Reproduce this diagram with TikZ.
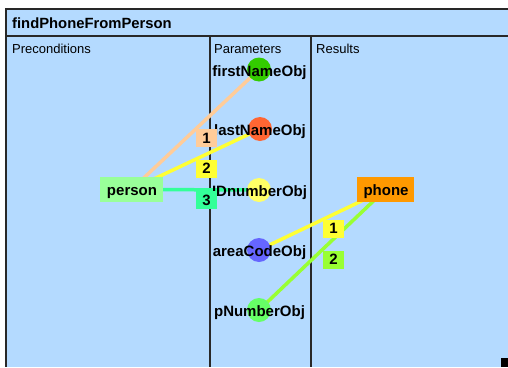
\documentclass[tikz,border=0pt]{standalone}
\usepackage{fontspec}
\setmainfont{Liberation Sans}
\pgfdeclarelayer{bg}
\pgfdeclarelayer{lines}
\pgfsetlayers{bg,lines,main}
\definecolor{panel}{RGB}{180,218,255}
\definecolor{framec}{RGB}{40,40,40}
\definecolor{cfirst}{RGB}{51,204,0}
\definecolor{clast}{RGB}{255,102,51}
\definecolor{cid}{RGB}{255,255,102}
\definecolor{carea}{RGB}{102,102,255}
\definecolor{cpnum}{RGB}{102,255,102}
\definecolor{cperson}{RGB}{153,255,153}
\definecolor{cphone}{RGB}{255,153,0}
\definecolor{cpeach}{RGB}{255,204,153}
\definecolor{cyel}{RGB}{255,255,51}
\definecolor{cteal}{RGB}{51,255,153}
\definecolor{clime}{RGB}{153,255,51}
\begin{document}
\begin{tikzpicture}[x=1pt,y=-1pt,
  frameline/.style={draw=framec, line width=2pt},
  conn/.style={line width=3.5pt},
  param/.style={circle, minimum size=24pt, inner sep=0pt},
  plabel/.style={font=\fontsize{15}{15}\selectfont\bfseries, anchor=base, inner sep=0pt},
  hdr/.style={font=\fontsize{13}{13}\selectfont, anchor=base west, inner sep=0pt},
  ttl/.style={font=\fontsize{14.8}{15}\selectfont\bfseries, anchor=base west, inner sep=0pt},
  objbox/.style={minimum height=25pt, inner sep=0pt},
  objtext/.style={font=\fontsize{15}{15}\selectfont\bfseries, anchor=base, inner sep=0pt},
  numbox/.style={minimum width=21pt, minimum height=18pt, inner sep=0pt, font=\fontsize{15}{15}\selectfont\bfseries}
]
\useasboundingbox (0,0) rectangle (508,367);
\begin{pgfonlayer}{bg}
  \fill[white] (0,0) rectangle (508,367);
  \fill[panel] (6,9) rectangle (508,367);
  \draw[frameline] (508,9) -- (6,9) -- (6,367);
  \draw[frameline] (6,36) -- (508,36);
  \draw[frameline] (209.5,36) -- (209.5,367);
  \draw[frameline] (311,36) -- (311,367);
  \fill[black] (501,358) rectangle (508,367);
\end{pgfonlayer}

\node[ttl] (title) at (12,28) {findPhoneFromPerson};
\node[hdr] (pre) at (12,53.5) {Preconditions};
\node[hdr] (par) at (214,53.5) {Parameters};
\node[hdr] (res) at (316,53.5) {Results};

% parameter circles
\node[param, fill=cfirst] (fn) at (259,69.5) {};
\node[param, fill=clast] (ln) at (260,129) {};
\node[param, fill=cid] (id) at (259,190) {};
\node[param, fill=carea] (ac) at (259,250) {};
\node[param, fill=cpnum] (pn) at (259,310) {};

\node[plabel] (fnt) at (259.5,76) {firstNameObj};
\node[plabel] (lnt) at (260,135.5) {lastNameObj};
\node[plabel] (idt) at (259.5,196) {IDnumberObj};
\node[plabel] (act) at (259.5,256) {areaCodeObj};
\node[plabel] (pnt) at (259.5,316) {pNumberObj};

% object boxes
\node[objbox, fill=cperson, minimum width=63pt] (person) at (131.5,189.5) {};
\node[objtext] at (132,195) {person};
\node[objbox, fill=cphone, minimum width=57pt] (phone) at (385.5,189.5) {};
\node[objtext] at (386,195.5) {phone};

% connectors
\begin{pgfonlayer}{lines}
  \draw[conn, cpeach] (person.center) -- (fn.center);
  \draw[conn, cyel] (person.center) -- (ln.center);
  \draw[conn, cteal] (person.center) -- (id.center);
  \draw[conn, cyel] (phone.center) -- (ac.center);
  \draw[conn, clime] (phone.center) -- (pn.center);
\end{pgfonlayer}

% connector labels
\node[numbox, fill=cpeach] (l1) at (206.5,138) {1};
\node[numbox, fill=cyel] (l2) at (206.5,168.5) {2};
\node[numbox, fill=cteal] (l3) at (206.5,200) {3};
\node[numbox, fill=cyel] (r1) at (333.5,228.5) {1};
\node[numbox, fill=clime] (r2) at (333.5,259.5) {2};
\end{tikzpicture}
\end{document}
